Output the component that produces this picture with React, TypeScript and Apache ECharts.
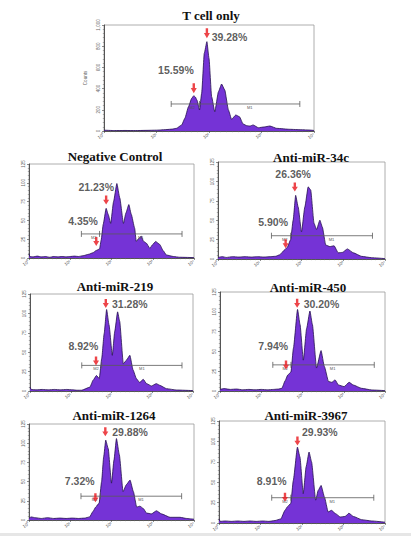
import React, { useEffect, useRef } from "react";
import * as echarts from "echarts";

// ---- data (x = log10 fluorescence decade position, y = counts) ----
const panelTitles = [
  "T cell only",
  "Negative Control",
  "Anti-miR-34c",
  "Anti-miR-219",
  "Anti-miR-450",
  "Anti-miR-1264",
  "Anti-miR-3967",
];

const xTickLabels = ["10⁰", "10¹", "10²", "10³", "10⁴"];

const tCellOnly = [
  [0, 8], [0.2, 4], [0.4, 5], [0.6, 4], [0.8, 6], [1.0, 8], [1.07, 10], [1.2, 14], [1.3, 18],
  [1.38, 25], [1.48, 57], [1.54, 120], [1.61, 230], [1.67, 308], [1.71, 333], [1.74, 320],
  [1.77, 292], [1.82, 198], [1.86, 355], [1.91, 733], [1.96, 843], [2.0, 686], [2.05, 324],
  [2.11, 182], [2.18, 371], [2.24, 443], [2.3, 387], [2.37, 198], [2.43, 110], [2.51, 151],
  [2.58, 135], [2.65, 66], [2.72, 50], [2.78, 47], [2.84, 57], [2.94, 31], [3.05, 38],
  [3.16, 47], [3.29, 25], [3.54, 16], [3.75, 12], [3.92, 9], [4.0, 5],
];
const negativeControl = [
  [0, 6], [0.02, 2], [0.1, 1.5], [0.2, 2.5], [0.3, 1.5], [0.4, 2], [0.5, 1], [0.6, 2], [0.7, 1.5],
  [0.8, 2], [0.9, 1.5], [1.0, 2], [1.1, 2.5], [1.2, 2], [1.31, 3], [1.45, 5], [1.55, 7], [1.63, 10],
  [1.71, 12], [1.75, 24], [1.8, 45], [1.87, 66], [1.92, 58], [1.98, 46], [2.05, 75], [2.13, 99],
  [2.2, 80], [2.29, 46], [2.35, 60], [2.42, 71], [2.48, 58], [2.56, 40], [2.6, 22], [2.66, 26],
  [2.72, 29], [2.78, 22], [2.84, 20], [2.93, 13], [3.0, 18], [3.07, 22], [3.17, 18], [3.25, 10],
  [3.33, 4], [3.5, 2], [3.65, 1], [4, 0.5],
];
const antiMiR34c = [
  [0, 2], [0.1, 3], [0.2, 2], [0.35, 3], [0.5, 2.5], [0.65, 3], [0.8, 2.5], [0.95, 3], [1.1, 2.5],
  [1.25, 3], [1.38, 3.5], [1.48, 5.5], [1.6, 12], [1.66, 15], [1.74, 25], [1.8, 50], [1.86, 82],
  [1.92, 67], [2.0, 35], [2.08, 67], [2.16, 93], [2.22, 89], [2.3, 46], [2.36, 38], [2.44, 50],
  [2.5, 41], [2.58, 18], [2.68, 16], [2.78, 17], [2.88, 8], [2.98, 8.5], [3.1, 13], [3.24, 8],
  [3.44, 3.4], [3.68, 1.7], [4, 0.5],
];
const antiMiR219 = [
  [0, 5], [0.03, 2], [0.15, 1.5], [0.3, 2], [0.45, 1.5], [0.6, 2], [0.75, 1.5], [0.9, 2], [1.05, 1.5],
  [1.15, 1], [1.27, 1], [1.47, 5], [1.55, 14], [1.63, 20], [1.7, 16], [1.76, 42], [1.82, 74],
  [1.88, 105], [1.94, 85], [2.02, 46], [2.08, 77], [2.15, 102], [2.2, 90], [2.29, 35], [2.37, 40],
  [2.45, 46], [2.53, 27], [2.61, 16], [2.69, 11], [2.78, 15], [2.86, 9.5], [2.98, 6.5], [3.1, 9.5],
  [3.18, 7.4], [3.35, 3], [3.59, 1.3], [4, 0.5],
];
const antiMiR450 = [
  [0, 2], [0.1, 3], [0.25, 2], [0.4, 2.5], [0.55, 1.5], [0.7, 2], [0.85, 1.5], [1.0, 2], [1.15, 1.5],
  [1.3, 2], [1.42, 2.5], [1.5, 3.4], [1.58, 13], [1.64, 20], [1.72, 24], [1.78, 54], [1.88, 103],
  [1.94, 84], [2.02, 39], [2.1, 79], [2.18, 101], [2.24, 84], [2.34, 29], [2.45, 51], [2.53, 31],
  [2.63, 12], [2.71, 11], [2.79, 14], [2.87, 7.6], [3.01, 5.5], [3.13, 11], [3.23, 7.6], [3.43, 3.4],
  [3.68, 1.3], [4, 0.5],
];
const antiMiR1264 = [
  [0, 2], [0.05, 4], [0.15, 3], [0.3, 2], [0.45, 3], [0.6, 2], [0.75, 2.5], [0.9, 2], [1.05, 2.5],
  [1.2, 2], [1.35, 2.5], [1.47, 4], [1.55, 11], [1.62, 17], [1.7, 22], [1.76, 50], [1.81, 82],
  [1.86, 104], [1.92, 93], [2.0, 48], [2.06, 78], [2.12, 106], [2.19, 85], [2.28, 37], [2.36, 46],
  [2.45, 52], [2.53, 37], [2.61, 17], [2.69, 18], [2.77, 15], [2.85, 9], [2.97, 8], [3.09, 12],
  [3.21, 8], [3.42, 3.5], [3.66, 3.5], [3.82, 2], [4, 1],
];
const antiMiR3967 = [
  [0, 5], [0.03, 2], [0.15, 2.5], [0.3, 2], [0.45, 2.5], [0.6, 2], [0.75, 2.5], [0.9, 2], [1.05, 2.5],
  [1.2, 2], [1.35, 3], [1.49, 5], [1.59, 15.5], [1.65, 20], [1.73, 24], [1.79, 52], [1.89, 93],
  [1.95, 81], [2.03, 36], [2.1, 69], [2.17, 87], [2.23, 75], [2.33, 28], [2.39, 40], [2.46, 46],
  [2.54, 32], [2.63, 13.5], [2.71, 15.5], [2.81, 11.4], [2.92, 7.4], [3.04, 8], [3.13, 12],
  [3.24, 8], [3.44, 4], [3.68, 2.5], [4, 1],
];

// gates: [M start, M2/M1 split, M end, level]
const gates = [
  [1.28, 1.82, 3.73, 255],
  [1.27, 1.71, 3.71, 32],
  [1.28, 1.74, 3.7, 30],
  [1.27, 1.76, 3.73, 33],
  [1.28, 1.72, 3.74, 33],
  [1.26, 1.73, 3.7, 31],
  [1.27, 1.73, 3.73, 31],
];

// arrow tips: [x, y] (main peak, then low peak)
const arrowTips = [
  [[1.96, 874], [1.71, 355]],
  [[1.87, 71], [1.63, 16]],
  [[1.84, 87], [1.62, 14]],
  [[1.86, 107], [1.62, 33]],
  [[1.87, 105], [1.6, 27]],
  [[1.85, 109], [1.61, 23]],
  [[1.89, 95], [1.59, 26]],
];

// percentage labels: [x, y, text]
const percentLabels = [
  [[2.39, 890, "39.28%"], [1.37, 575, "15.59%"]],
  [[1.63, 95, "21.23%"], [1.31, 49, "4.35%"]],
  [[1.8, 110, "26.36%"], [1.32, 48, "5.90%"]],
  [[2.45, 112, "31.28%"], [1.31, 58, "8.92%"]],
  [[2.46, 110, "30.20%"], [1.29, 57, "7.94%"]],
  [[2.45, 115, "29.88%"], [1.23, 51, "7.32%"]],
  [[2.43, 112, "29.93%"], [1.27, 51, "8.91%"]],
];

const yMaxes = [1000, 125, 125, 125, 125, 125, 125];
const yIntervals = [200, 25, 25, 25, 25, 25, 25];

const histograms = [
  tCellOnly,
  negativeControl,
  antiMiR34c,
  antiMiR219,
  antiMiR450,
  antiMiR1264,
  antiMiR3967,
];

// ---- layout ----
const gridBoxes = [
  { left: 104, top: 25, width: 210, height: 106 },
  { left: 29, top: 164, width: 165, height: 94 },
  { left: 218, top: 162, width: 167, height: 97 },
  { left: 30, top: 294, width: 163, height: 97 },
  { left: 220, top: 292, width: 165, height: 99 },
  { left: 29, top: 424, width: 165, height: 96 },
  { left: 219, top: 421, width: 166, height: 102 },
];
const titlePos = [
  [206, 4],
  [110, 145],
  [306, 146],
  [110, 275],
  [303, 276],
  [109, 404],
  [301, 404],
];

const ARROW = "path://M3,0L7,0L7,6L10,6L5,13L0,6L3,6Z";

function buildOption() {
  const grid: any[] = [];
  const xAxis: any[] = [];
  const yAxis: any[] = [];
  const series: any[] = [];
  const title: any[] = [];

  histograms.forEach((hist, i) => {
    const g = gridBoxes[i];
    grid.push({
      left: g.left,
      top: g.top,
      width: g.width,
      height: g.height,
      show: true,
      borderColor: "#9a9a9a",
      borderWidth: 0.8,
      backgroundColor: "#fff",
    });
    title.push({
      text: panelTitles[i],
      left: titlePos[i][0],
      top: titlePos[i][1],
      textAlign: "center",
      textStyle: {
        fontFamily: "Liberation Serif",
        fontWeight: "bold",
        fontSize: 13,
        color: "#111",
      },
    });
    xAxis.push({
      type: "value",
      gridIndex: i,
      min: 0,
      max: 4,
      interval: 1,
      axisLine: { show: true, lineStyle: { color: "#333", width: 0.8 } },
      axisTick: { show: true, length: 2, lineStyle: { color: "#444", width: 0.6 } },
      minorTick: { show: true, splitNumber: 9, length: 1.2, lineStyle: { color: "#666", width: 0.5 } },
      splitLine: { show: false },
      axisLabel: {
        fontSize: 4.5,
        color: "#666",
        margin: 3,
        rotate: 35,
        formatter: (v: number) => xTickLabels[v] ?? "",
      },
    });
    yAxis.push({
      type: "value",
      gridIndex: i,
      min: 0,
      max: yMaxes[i],
      interval: yIntervals[i],
      name: i === 0 ? "Counts" : "",
      nameLocation: "middle",
      nameGap: 9,
      nameRotate: 90,
      nameTextStyle: { fontSize: 4.5, color: "#666" },
      axisLine: { show: true, lineStyle: { color: "#333", width: 0.8 } },
      axisTick: { show: true, length: 2, lineStyle: { color: "#444", width: 0.6 } },
      minorTick: { show: true, splitNumber: 5, length: 1.2, lineStyle: { color: "#666", width: 0.5 } },
      splitLine: { show: false },
      axisLabel: { fontSize: 4.5, color: "#666", margin: 3, rotate: 90 },
    });

    series.push({
      type: "line",
      xAxisIndex: i,
      yAxisIndex: i,
      data: hist,
      showSymbol: false,
      symbol: "none",
      silent: true,
      smooth: 0.15,
      smoothMonotone: "x",
      lineStyle: { color: "#24104f", width: 0.8 },
      areaStyle: { color: "#7533d6", opacity: 1 },
      z: 2,
    });

    series.push({
      type: "custom",
      xAxisIndex: i,
      yAxisIndex: i,
      silent: true,
      data: [gates[i]],
      encode: { x: [0, 1, 2], y: 3 },
      z: 4,
      renderItem: (_params: any, api: any) => {
        const y = api.value(3);
        const a = api.coord([api.value(0), y]);
        const s = api.coord([api.value(1), y]);
        const b = api.coord([api.value(2), y]);
        const h = 3;
        const ls = { stroke: "#5a5a5a", lineWidth: 0.8 };
        const mid2 = api.coord([api.value(1) - 0.14, y]);
        const mid1 = api.coord([(api.value(1) + api.value(2)) / 2, y]);
        return {
          type: "group",
          children: [
            { type: "line", shape: { x1: a[0], y1: a[1], x2: b[0], y2: b[1] }, style: ls },
            { type: "line", shape: { x1: a[0], y1: a[1] - h, x2: a[0], y2: a[1] + h }, style: ls },
            { type: "line", shape: { x1: s[0], y1: s[1] - h, x2: s[0], y2: s[1] + h }, style: ls },
            { type: "line", shape: { x1: b[0], y1: b[1] - h, x2: b[0], y2: b[1] + h }, style: ls },
            {
              type: "text",
              x: mid2[0],
              y: mid2[1] + 1.5,
              style: { text: "M2", fontSize: 4, fill: "#555", align: "center", verticalAlign: "top" },
            },
            {
              type: "text",
              x: mid1[0],
              y: mid1[1] + 1.5,
              style: { text: "M1", fontSize: 4, fill: "#555", align: "center", verticalAlign: "top" },
            },
          ],
        };
      },
    });

    series.push({
      type: "scatter",
      xAxisIndex: i,
      yAxisIndex: i,
      silent: true,
      data: arrowTips[i],
      symbol: ARROW,
      symbolSize: i === 0 ? [6, 10] : [6, 9],
      symbolOffset: [0, "-50%"],
      itemStyle: { color: "#e8171b" },
      z: 6,
    });

    series.push({
      type: "scatter",
      xAxisIndex: i,
      yAxisIndex: i,
      silent: true,
      clip: false,
      data: percentLabels[i],
      symbolSize: 0.1,
      itemStyle: { color: "rgba(0,0,0,0)" },
      label: {
        show: true,
        position: "inside",
        formatter: (p: any) => p.value[2],
        fontFamily: "Liberation Sans",
        fontWeight: "bold",
        fontSize: 10.5,
        color: "#333",
      },
      z: 7,
    });
  });

  return {
    animation: false,
    backgroundColor: "#fff",
    title,
    grid,
    xAxis,
    yAxis,
    series,
    graphic: [
      {
        type: "rect",
        shape: { x: 0, y: 533, width: 411, height: 3 },
        style: { fill: "#e6e6e6" },
        silent: true,
      },
    ],
  };
}

export default function App() {
  const ref = useRef<HTMLDivElement>(null);
  useEffect(() => {
    document.body.style.margin = "0";
    if (!ref.current) return;
    const chart = echarts.init(ref.current, undefined, { renderer: "svg" });
    chart.setOption(buildOption() as any);
    return () => chart.dispose();
  }, []);
  return <div ref={ref} style={{ width: 411, height: 541 }} />;
}
